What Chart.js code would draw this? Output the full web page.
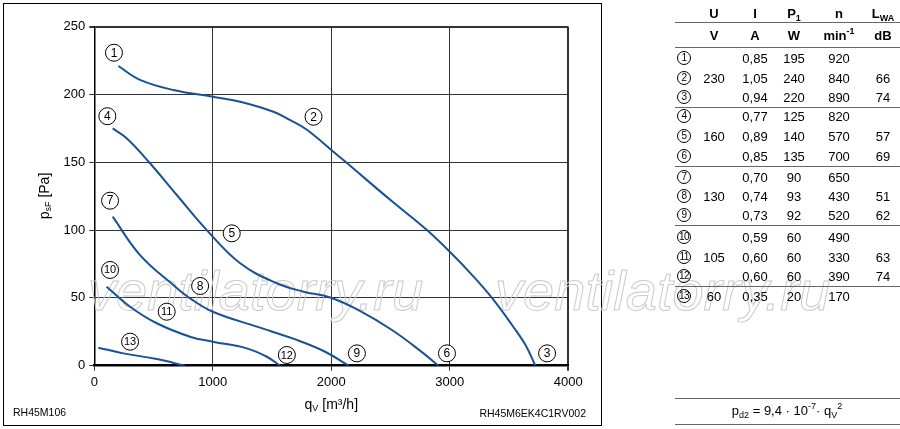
<!DOCTYPE html>
<html>
<head>
<meta charset="utf-8">
<script src="https://cdn.jsdelivr.net/npm/chart.js@4.4.0/dist/chart.umd.min.js"></script>
<style>
  html, body { margin: 0; padding: 0; background: #fff; }
  body { width: 900px; height: 429px; position: relative; overflow: hidden; font-family: 'Liberation Sans', Arial, sans-serif; color: #000; }
  #frame { position: absolute; left: 3px; top: 3px; width: 599px; height: 423px; border: 1px solid #000; box-sizing: border-box; }
  #chart { position: absolute; left: 0; top: 0; }
  .t { position: absolute; transform: translate(-50%, -50%); white-space: nowrap; font-size: 13px; line-height: 1; }
  .b { font-weight: bold; }
  .hl { position: absolute; left: 675px; width: 225px; height: 0; border-top: 1px solid #666; }
  .circ { position: absolute; width: 12px; height: 12px; border: 1px solid #000; border-radius: 50%; transform: translate(-50%, -50%); font-size: 10px; line-height: 12px; text-align: center; letter-spacing: -0.6px; }
  .note { position: absolute; font-size: 10.5px; line-height: 1; transform: translateY(-50%); }
  sub, sup { font-size: 9px; line-height: 0; }
</style>
</head>
<body>
<div id="frame"></div>
<canvas id="chart" width="900" height="429"></canvas>
<div id="table"></div>
<div class="note" style="left:13px; top:412px;">RH45M106</div>
<div class="note" style="right:314px; top:413px;">RH45M6EK4C1RV002</div>
<div class="hl" style="top:398px;"></div>
<div class="t" style="left:787px; top:410px;">p<sub>d2</sub> = 9,4 · 10<sup>-7</sup>· q<sub>V</sub><sup>2</sup></div>
<div class="hl" style="top:424px;"></div>
<script>
// Fan curves, static pressure p_sF [Pa] over air flow q_V [m3/h]
const qCurve230 = [203, 386, 667, 1000, 1231, 1512, 1650, 1794, 2033, 2132, 2420, 2600, 2807, 3000, 3187, 3356, 3525, 3640, 3722];
const pCurve230 = [221, 210.8, 203.3, 198.4, 194.7, 187.3, 181.2, 174, 156.6, 149.5, 128, 115, 100, 84, 67, 50, 30, 15, 0];

const qCurve160 = [155, 273, 470, 696, 949, 1231, 1540, 1765, 1990, 2230, 2512, 2765, 2905];
const pCurve160 = [175, 167.7, 149.3, 125.9, 100, 75.5, 60.8, 54.6, 50.3, 41, 26.3, 10, 0];

const qCurve130 = [155, 386, 667, 808, 1000, 1372, 1709, 1948, 2146];
const pCurve130 = [109.9, 81.6, 59.5, 49.7, 39.8, 28.8, 19, 10.3, 0];

const qCurve105 = [104, 302, 527, 808, 1000, 1287, 1456, 1568];
const pCurve105 = [58.3, 43.5, 31.3, 21.4, 17.7, 12.8, 6.6, 0];

const qCurve60 = [34, 245, 527, 766];
const pCurve60 = [13.3, 9.1, 4.9, 0];

// Operating point markers (circled numbers) in data units
const markNo = [1, 2, 3, 4, 5, 6, 7, 8, 9, 10, 11, 12, 13];
const markQ = [166, 1850, 3821, 110, 1160, 2976, 133, 893, 2216, 133, 611, 1625, 302];
const markP = [230.8, 183.6, 9.1, 184, 97.6, 9.1, 121.7, 58.8, 9.1, 70.6, 39.8, 7.9, 17.7];

// Table on the right
const tableU = ['', '230', '', '', '160', '', '', '130', '', '', '105', '', '60'];
const tableI = ['0,85', '1,05', '0,94', '0,77', '0,89', '0,85', '0,70', '0,74', '0,73', '0,59', '0,60', '0,60', '0,35'];
const tableP1 = ['195', '240', '220', '125', '140', '135', '90', '93', '92', '60', '60', '60', '20'];
const tableN = ['920', '840', '890', '820', '570', '700', '650', '430', '520', '490', '330', '390', '170'];
const tableLwa = ['', '66', '74', '', '57', '69', '', '51', '62', '', '63', '74', ''];

const FONT = "'Liberation Sans', Arial, sans-serif";
const LINE_COLOR = '#1b5291';

function toPoints(qs, ps) {
    return qs.map((q, i) => ({ x: q, y: ps[i] }));
}

function curve(qs, ps) {
    return {
        data: toPoints(qs, ps),
        borderColor: LINE_COLOR,
        borderWidth: 2,
        pointRadius: 0,
        showLine: true,
        fill: false,
        tension: 0.4
    };
}

// Watermark behind the curves
const watermark = {
    id: 'watermark',
    beforeDatasetsDraw(chart) {
        const ctx = chart.ctx;
        ctx.save();
        ctx.font = `italic 56px ${FONT}`;
        ctx.strokeStyle = '#cacaca';
        ctx.lineWidth = 1;
        ctx.textBaseline = 'alphabetic';
        ctx.strokeText('ventilatorry.ru', 88, 310);
        ctx.strokeText('ventilatorry.ru', 495, 310);
        ctx.restore();
    }
};

// Circled curve numbers
const markers = {
    id: 'markers',
    afterDatasetsDraw(chart) {
        const ctx = chart.ctx;
        const xs = chart.scales.x, ys = chart.scales.y;
        ctx.save();
        markNo.forEach((n, i) => {
            const x = xs.getPixelForValue(markQ[i]);
            const y = ys.getPixelForValue(markP[i]);
            ctx.beginPath();
            ctx.arc(x, y, 8.5, 0, Math.PI * 2);
            ctx.fillStyle = '#fff';
            ctx.fill();
            ctx.lineWidth = 1;
            ctx.strokeStyle = '#000';
            ctx.stroke();
            ctx.fillStyle = '#000';
            ctx.font = `${n > 9 ? 11 : 12}px ${FONT}`;
            ctx.textAlign = 'center';
            ctx.textBaseline = 'middle';
            ctx.fillText(String(n), x, y + 0.5);
        });
        ctx.restore();
    }
};

// Axis titles with subscripts
function drawParts(ctx, parts, x, y) {
    let total = 0;
    parts.forEach(p => { ctx.font = `${p.size}px ${FONT}`; p.w = ctx.measureText(p.text).width; total += p.w; });
    let cx = x - total / 2;
    parts.forEach(p => {
        ctx.font = `${p.size}px ${FONT}`;
        ctx.fillText(p.text, cx, y + (p.dy || 0));
        cx += p.w;
    });
}

const axisTitles = {
    id: 'axisTitles',
    afterDraw(chart) {
        const ctx = chart.ctx;
        const area = chart.chartArea;
        ctx.save();
        ctx.fillStyle = '#000';
        ctx.textAlign = 'left';
        ctx.textBaseline = 'middle';
        drawParts(ctx, [
            { text: 'q', size: 14 },
            { text: 'V', size: 9, dy: 4 },
            { text: ' [m³/h]', size: 14 }
        ], (area.left + area.right) / 2, 405);
        ctx.translate(45, 196);
        ctx.rotate(-Math.PI / 2);
        drawParts(ctx, [
            { text: 'p', size: 14 },
            { text: 'sF', size: 9, dy: 4 },
            { text: ' [Pa]', size: 14 }
        ], 0, 0);
        ctx.restore();
    }
};

const edgeWidth = (edge) => (ctx) => (ctx.tick && ctx.tick.value === edge ? 2 : 1);

new Chart(document.getElementById('chart'), {
    type: 'scatter',
    data: {
        datasets: [
            curve(qCurve230, pCurve230),
            curve(qCurve160, pCurve160),
            curve(qCurve130, pCurve130),
            curve(qCurve105, pCurve105),
            curve(qCurve60, pCurve60)
        ]
    },
    options: {
        responsive: false,
        animation: false,
        layout: { padding: { left: 0, top: 26.7, right: 331.7, bottom: 0 } },
        plugins: {
            legend: { display: false },
            tooltip: { enabled: false }
        },
        scales: {
            x: {
                type: 'linear',
                min: 0,
                max: 4000,
                ticks: {
                    stepSize: 1000,
                    color: '#000',
                    font: { family: FONT, size: 13 },
                    padding: 4,
                    maxRotation: 0,
                    callback: (v) => String(v)
                },
                grid: { color: '#333', lineWidth: edgeWidth(4000), tickLength: 5 },
                border: { color: '#000', width: 2.5 },
                afterFit: (s) => { s.height = 63.3; }
            },
            y: {
                min: 0,
                max: 250,
                ticks: { stepSize: 50, color: '#000', font: { family: FONT, size: 13 }, padding: 4 },
                grid: { color: '#333', lineWidth: edgeWidth(250), tickLength: 5 },
                border: { color: '#000', width: 1.5 },
                afterFit: (s) => { s.width = 94.3; }
            }
        }
    },
    plugins: [watermark, markers, axisTitles]
});

// Build the table as real text
const table = document.getElementById('table');
const colX = { no: 684, u: 714, i: 755, p1: 794, n: 839, lwa: 883 };
const rowY = [58, 77.5, 97, 116, 135.5, 155.5, 177, 196, 214.5, 237, 257, 276, 296];
const groupLines = [22.3, 47, 106.5, 166, 225, 286];

function cell(html, x, y, cls) {
    const d = document.createElement('div');
    d.className = 't' + (cls ? ' ' + cls : '');
    d.style.left = x + 'px';
    d.style.top = y + 'px';
    d.innerHTML = html;
    table.appendChild(d);
}

cell('U', colX.u, 13, 'b');
cell('I', colX.i, 13, 'b');
cell('P<sub>1</sub>', colX.p1, 13, 'b');
cell('n', colX.n, 13, 'b');
cell('L<sub>WA</sub>', colX.lwa, 13, 'b');
cell('V', colX.u, 35, 'b');
cell('A', colX.i, 35, 'b');
cell('W', colX.p1, 35, 'b');
cell('min<sup>-1</sup>', colX.n, 35, 'b');
cell('dB', colX.lwa, 35, 'b');

groupLines.forEach(y => {
    const l = document.createElement('div');
    l.className = 'hl';
    l.style.top = y + 'px';
    table.appendChild(l);
});

markNo.forEach((n, r) => {
    const c = document.createElement('div');
    c.className = 'circ';
    c.style.left = colX.no + 'px';
    c.style.top = rowY[r] + 'px';
    c.textContent = n;
    table.appendChild(c);
    cell(tableU[r], colX.u, rowY[r]);
    cell(tableI[r], colX.i, rowY[r]);
    cell(tableP1[r], colX.p1, rowY[r]);
    cell(tableN[r], colX.n, rowY[r]);
    cell(tableLwa[r], colX.lwa, rowY[r]);
});
</script>
</body>
</html>
